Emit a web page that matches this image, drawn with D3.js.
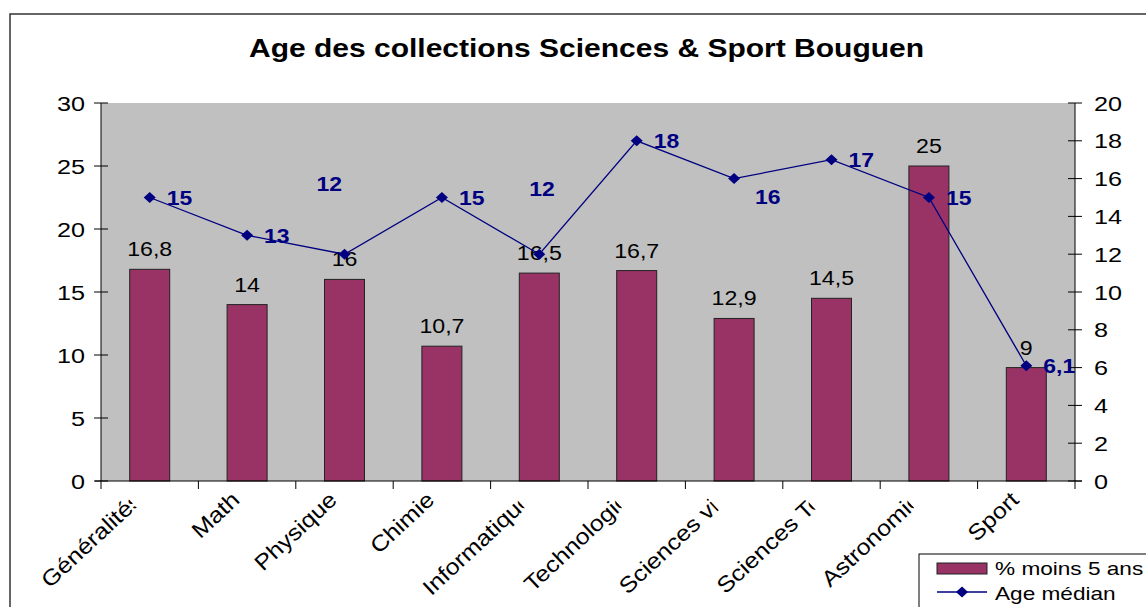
<!DOCTYPE html>
<html><head><meta charset="utf-8">
<script src="https://cdn.jsdelivr.net/npm/d3@7"></script>
<style>body{margin:0;background:#fff}svg{display:block}text{font-family:"Liberation Sans",Arial,sans-serif}</style>
</head><body>
<svg id="c" width="1146" height="607"></svg>
<script>
const categories = ["Généralités","Math","Physique","Chimie","Informatique","Technologie","Sciences vie","Sciences Terre","Astronomie","Sport"];
const pctMoins5 = [16.8,14,16,10.7,16.5,16.7,12.9,14.5,25,9];
const ageMedian = [15,13,12,15,12,18,16,17,15,6.1];
const leftTicks = [0,5,10,15,20,25,30];
const rightTicks = [0,2,4,6,8,10,12,14,16,18,20];
const title = "Age des collections Sciences & Sport Bouguen";
const seriesNames = ["% moins 5 ans","Age médian"];

const SX = 1.13;
const svg = d3.select("#c");
const P = {l:101, r:1075, t:103, b:481};
const x = d3.scaleBand().domain(categories).range([P.l,P.r]).padding(0);
const yL = d3.scaleLinear().domain([0,30]).range([P.b,P.t]);
const yR = d3.scaleLinear().domain([0,20]).range([P.b,P.t]);
const fmt = v => String(v).replace(".", ",");

function txt(g, px, py, s, o={}){
  const t = g.append("text")
    .attr("transform", `translate(${px},${py})` + (o.rot?` rotate(${o.rot})`:"") + ` scale(${o.sx||SX},1)`)
    .attr("font-size", o.size||20)
    .attr("fill", o.fill||"#000")
    .attr("text-anchor", o.anchor||"start")
    .text(s);
  if(o.bold) t.attr("font-weight","bold");
  if(o.dy) t.attr("dy", o.dy);
  return t;
}

// frame
svg.append("rect").attr("x",10).attr("y",14).attr("width",1200).attr("height",700)
  .attr("fill","#fff").attr("stroke","#333").attr("stroke-width",1.5);

// title
txt(svg, 586.5, 57, title, {size:25, bold:true, anchor:"middle", sx:1.2});

// plot area
svg.append("rect").attr("x",P.l).attr("y",P.t).attr("width",P.r-P.l).attr("height",P.b-P.t).attr("fill","#C0C0C0");

// bars
const bw = 40;
svg.append("g").selectAll("rect").data(categories).join("rect")
  .attr("x", d => x(d)+x.bandwidth()/2-bw/2)
  .attr("y", (d,i) => yL(pctMoins5[i]))
  .attr("width", bw)
  .attr("height", (d,i) => P.b - yL(pctMoins5[i]))
  .attr("fill","#993366").attr("stroke","#222").attr("stroke-width",1);

// bar labels
const gbl = svg.append("g");
categories.forEach((c,i)=>{
  txt(gbl, x(c)+x.bandwidth()/2, yL(pctMoins5[i])-13, fmt(pctMoins5[i]), {anchor:"middle", size:20.5});
});

// axes
const ax = svg.append("g").attr("stroke","#000").attr("stroke-width",1);
ax.append("line").attr("x1",P.l).attr("x2",P.l).attr("y1",P.t).attr("y2",P.b);
ax.append("line").attr("x1",P.r).attr("x2",P.r).attr("y1",P.t).attr("y2",P.b);
ax.append("line").attr("x1",P.l-6).attr("x2",P.r+7).attr("y1",P.b).attr("y2",P.b);
leftTicks.forEach(v=>{
  ax.append("line").attr("x1",P.l-7).attr("x2",P.l+7).attr("y1",yL(v)).attr("y2",yL(v));
  txt(svg, 85, yL(v), String(v), {anchor:"end", size:21, sx:1.2, dy:"0.36em"});
});
rightTicks.forEach(v=>{
  ax.append("line").attr("x1",P.r-7).attr("x2",P.r+7).attr("y1",yR(v)).attr("y2",yR(v));
  txt(svg, 1094, yR(v), String(v), {anchor:"start", size:21, sx:1.2, dy:"0.36em"});
});
const bounds = categories.map(c=>x(c)).concat([P.r]);
bounds.forEach(b=>{
  ax.append("line").attr("x1",b).attr("x2",b).attr("y1",P.b).attr("y2",P.b+8);
});

// category labels: long ones lose the characters that do not fit, like the original
const defs = svg.append("defs");
const gcat = svg.append("g");
const maxLen = 111;
categories.forEach((c,i)=>{
  const cx = x(c)+x.bandwidth()/2;
  const g = gcat.append("g").attr("transform", `translate(${cx-17},${490}) rotate(-43) scale(1.14,1)`);
  const t = g.append("text").attr("font-size",22).attr("text-anchor","end").attr("dy","0.72em").text(c);
  const node = t.node(), n = c.length;
  const len = node.getComputedTextLength();
  let k = n;
  while(k>1 && node.getSubStringLength(0,k) > maxLen) k--;
  if(k<n){
    const hidden = len - node.getSubStringLength(0,k);
    const back = Math.min(hidden, 14);
    t.attr("x", hidden - back);
    defs.append("clipPath").attr("id","cc"+i).append("rect")
      .attr("x",-1000).attr("y",-50).attr("width",1000 - back + 3).attr("height",100);
    t.attr("clip-path",`url(#cc${i})`);
  }
});

// line
const pts = categories.map((c,i)=>[x(c)+x.bandwidth()/2, yR(ageMedian[i])]);
svg.append("path").attr("d", d3.line()(pts)).attr("fill","none").attr("stroke","#000080").attr("stroke-width",1.3);
const diamond = "M0,-5.5L6,0L0,5.5L-6,0Z";
svg.append("g").selectAll("path").data(pts).join("path")
  .attr("d",diamond).attr("transform",d=>`translate(${d[0]},${d[1]})`).attr("fill","#000080");

// line labels
const labelShift = {"Physique":[-28,-71], "Informatique":[-10,-66], "Sciences vie":[21,18]};
const gll = svg.append("g");
categories.forEach((c,i)=>{
  const s = labelShift[c] || [17,0];
  txt(gll, pts[i][0]+s[0], pts[i][1]+s[1], fmt(ageMedian[i]), {bold:true, fill:"#000080", size:20.5, dy:"0.36em", sx:1.12});
});

// legend
const lg = svg.append("g");
lg.append("rect").attr("x",919).attr("y",554).attr("width",300).attr("height",100).attr("fill","#fff").attr("stroke","#000");
lg.append("rect").attr("x",937).attr("y",563).attr("width",50).attr("height",11).attr("fill","#993366").attr("stroke","#222");
txt(lg, 995, 575, seriesNames[0], {size:19, sx:1.19});
lg.append("line").attr("x1",937).attr("x2",987).attr("y1",592).attr("y2",592).attr("stroke","#000080").attr("stroke-width",1.3);
lg.append("path").attr("d",diamond).attr("transform","translate(962,592)").attr("fill","#000080");
txt(lg, 995, 600, seriesNames[1], {size:19, sx:1.19});
</script>
</body></html>
